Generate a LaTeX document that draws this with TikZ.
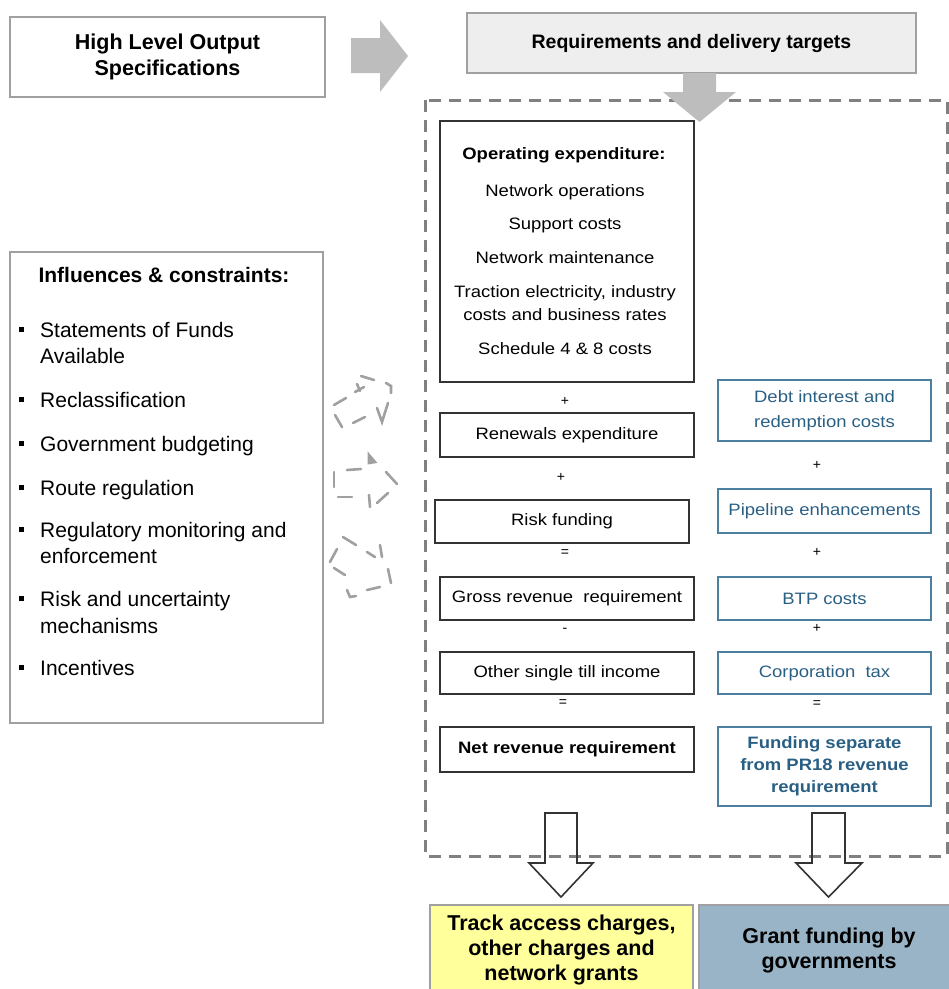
\documentclass[tikz,border=0pt]{standalone}
\usepackage{fontspec}
\setmainfont{Liberation Sans}
\newfontfamily\widefam{Liberation Sans}[FakeStretch=1.12]
\usetikzlibrary{calc}
\definecolor{graybord}{HTML}{A0A0A0}
\definecolor{darkb}{HTML}{333333}
\definecolor{blueb}{HTML}{4D7FA0}
\definecolor{bluet}{HTML}{2A5F84}
\definecolor{arrowgray}{HTML}{BDBDBD}
\definecolor{dashgray}{HTML}{808080}
\definecolor{scribgray}{HTML}{A0A0A0}
\definecolor{reqfill}{HTML}{EEEEEE}
\definecolor{yellowfill}{HTML}{FFFF9C}
\definecolor{steelfill}{HTML}{98B4C6}
\newcommand\fmid{\fontsize{16.5}{25}\selectfont\widefam}
\newcommand\fsym{\fontsize{14}{14}\selectfont}
\newcommand\finf{\fontsize{21}{25}\selectfont}
\begin{document}
\begin{tikzpicture}[x=1pt,y=-1pt,
  darkbox/.style={draw=darkb, line width=1.6pt, minimum width=254pt, inner sep=0pt, font=\fmid, align=center},
  bluebox/.style={draw=blueb, line width=1.6pt, minimum width=213pt, inner sep=0pt, font=\fmid, text=bluet, align=center},
  lightbox/.style={draw=graybord, line width=1.4pt, inner sep=0pt, align=center},
  midline/.style={anchor=base, inner sep=0pt, font=\fmid},
  sym/.style={font=\fsym, inner sep=0pt},
  infitem/.style={anchor=base west, inner sep=0pt, font=\finf},
  bulletsq/.style={fill=black, minimum size=5pt, inner sep=0pt},
  bigarrow/.style={fill=arrowgray, draw=none},
  whitearrow/.style={draw=darkb, line width=1.6pt, line join=miter},
  dashbox/.style={draw=dashgray, line width=3pt, dash pattern=on 12pt off 8pt},
  scrib/.style={draw=scribgray, line width=2.6pt, line cap=round}
]
\useasboundingbox (0,0) rectangle (949,989);

% dashed frame
\draw[dashbox] (425,100) rectangle (947,856);

% top row
\node[lightbox, minimum width=315pt, minimum height=80pt, font=\fontsize{21.5}{26}\selectfont\bfseries] (hlos) at (167.5,57) {High Level Output\\Specifications};
\node[lightbox, fill=reqfill, minimum width=449pt, minimum height=60pt, font=\fontsize{19.5}{24}\selectfont\bfseries] (req) at (691.5,43) {Requirements and delivery targets};

\path[bigarrow] (351,38) -- (380,38) -- (380,20) -- (408,56) -- (380,92) -- (380,73) -- (351,73) -- cycle;
\path[bigarrow] (683,73) -- (716,73) -- (716,92) -- (736,92) -- (699.5,122) -- (663,92) -- (683,92) -- cycle;

% operating expenditure
\node[darkbox, minimum height=261pt] (opex) at (567,251.5) {};
\node[midline, font=\fmid\bfseries] (op0) at (564,159) {Operating expenditure:};
\node[midline] (op1) at (565,196) {Network operations};
\node[midline] (op2) at (565,229) {Support costs};
\node[midline] (op3) at (565,263) {Network maintenance};
\node[midline] (op4) at (565,297) {Traction electricity, industry};
\node[midline] (op5) at (565,320) {costs and business rates};
\node[midline] (op6) at (565,354) {Schedule 4 \& 8 costs};

% left column
\node[sym] (s1) at (565,401) {+};
\node[darkbox, minimum height=44pt] (ren) at (567,435) {Renewals expenditure};
\node[sym] (s2) at (561,477) {+};
\node[darkbox, minimum height=43pt] (risk) at (562,521.5) {Risk funding};
\node[sym] (s3) at (565,553) {=};
\node[darkbox, minimum height=43pt] (gross) at (567,598.5) {Gross revenue \ requirement};
\node[sym] (s4) at (565,630) {-};
\node[darkbox, minimum height=42pt] (other) at (567,673) {Other single till income};
\node[sym] (s5) at (563,703) {=};
\node[darkbox, minimum height=45pt, font=\fmid\bfseries] (net) at (567,749.5) {Net revenue requirement};

% right column
\node[bluebox, minimum height=61pt] (debt) at (824.5,410.5) {Debt interest and\\redemption costs};
\node[sym] (r1) at (817,465) {+};
\node[bluebox, minimum height=44pt] (pipe) at (824.5,511) {Pipeline enhancements};
\node[sym] (r2) at (817,552) {+};
\node[bluebox, minimum height=43pt] (btp) at (824.5,598.5) {BTP costs};
\node[sym] (r3) at (817,628) {+};
\node[bluebox, minimum height=42pt] (corp) at (824.5,673) {Corporation \ tax};
\node[sym] (r4) at (817,704) {=};
\node[bluebox, minimum height=79pt, font=\fontsize{16.5}{22}\selectfont\widefam\bfseries] (fund) at (824.5,766.5) {Funding separate\\from PR18 revenue\\requirement};

% white down arrows
\draw[whitearrow] (545,813) -- (577,813) -- (577,863) -- (593,863) -- (561,897) -- (529,863) -- (545,863) -- cycle;
\draw[whitearrow] (812,813) -- (845,813) -- (845,863) -- (862,863) -- (828.5,897) -- (796,863) -- (812,863) -- cycle;

% bottom boxes
\node[lightbox, fill=yellowfill, minimum width=263pt, minimum height=90pt, font=\fontsize{21.5}{25}\selectfont\bfseries] (track) at (561.5,950) {Track access charges,\\other charges and\\network grants};
\node[lightbox, fill=steelfill, minimum width=260pt, minimum height=90pt, font=\fontsize{21.5}{25}\selectfont\bfseries] (grant) at (829,950) {Grant funding by\\governments};

% influences box
\node[lightbox, minimum width=313pt, minimum height=471pt] (infl) at (166.5,487.5) {};
\node[anchor=base, inner sep=0pt, font=\finf\bfseries] (inft) at (164,282) {Influences \& constraints:};
\node[bulletsq] (b1) at (21,329) {};
\node[infitem] (i1a) at (40,337) {Statements of Funds};
\node[infitem] (i1b) at (40,363) {Available};
\node[bulletsq] (b2) at (21,399) {};
\node[infitem] (i2) at (40,407) {Reclassification};
\node[bulletsq] (b3) at (21,443) {};
\node[infitem] (i3) at (40,451) {Government budgeting};
\node[bulletsq] (b4) at (21,487) {};
\node[infitem] (i4) at (40,495) {Route regulation};
\node[bulletsq] (b5) at (21,529) {};
\node[infitem] (i5a) at (40,537) {Regulatory monitoring and};
\node[infitem] (i5b) at (40,563) {enforcement};
\node[bulletsq] (b6) at (21,598) {};
\node[infitem] (i6a) at (40,606) {Risk and uncertainty};
\node[infitem] (i6b) at (40,633) {mechanisms};
\node[bulletsq] (b7) at (21,667) {};
\node[infitem] (i7) at (40,675) {Incentives};

% scribbled dashed loops (broken cycle marks)
\draw[scrib] (334,405) -- (346,398);
\draw[scrib] (355,392) -- (364,387) (357,384) -- (360,391);
\draw[scrib] (361,376) -- (374,380);
\draw[scrib] (386,383) -- (391,386) -- (391,393);
\draw[scrib] (377,408) -- (382,422) -- (388,403);
\draw[scrib] (353,423) -- (365,417);
\draw[scrib] (335,415) -- (342,427);

\draw[scrib] (334,472) -- (334,487);
\draw[scrib] (347,470) -- (361,469);
\draw[scrib, fill=scribgray] (369,455) -- (375,462) -- (369,463) -- cycle;
\draw[scrib] (386,472) -- (397,484);
\draw[scrib] (369,495) -- (370,507) (377,503) -- (388,493);
\draw[scrib] (338,497) -- (352,497);

\draw[scrib] (330,562) -- (337,549);
\draw[scrib] (343,537) -- (356,545);
\draw[scrib] (367,552) -- (375,557) (380,545) -- (382,557);
\draw[scrib] (388,569) -- (391,583);
\draw[scrib] (367,590) -- (380,587);
\draw[scrib] (347,590) -- (350,597) -- (356,596);
\draw[scrib] (334,568) -- (345,575);
\end{tikzpicture}
\end{document}
